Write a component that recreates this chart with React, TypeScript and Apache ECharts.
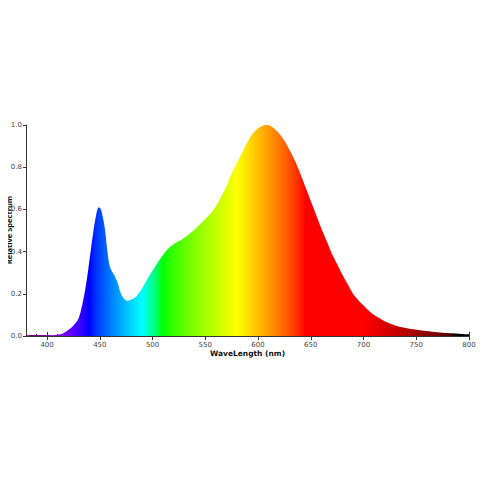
import { useEffect, useRef } from 'react';
import * as echarts from 'echarts';

// wavelength (nm) and relative intensity
const wavelengths = [
  380, 390, 400, 405, 410, 415, 420, 425, 430, 435, 438, 441, 444, 447, 449, 451, 453, 455, 457, 459,
  461, 464, 467, 470, 474, 477, 481, 485, 490, 495, 500, 505, 510, 515, 520, 525, 530, 535, 540, 545,
  550, 555, 560, 565, 570, 575, 580, 585, 590, 595, 600, 605, 608, 612, 616, 620, 625, 630, 635, 640,
  645, 650, 655, 660, 665, 670, 675, 680, 685, 690, 695, 700, 705, 710, 715, 720, 730, 740, 750, 760,
  770, 780, 790, 800,
];
const intensity = [
  0.004, 0.005, 0.005, 0.004, 0.006, 0.012, 0.028, 0.05, 0.085, 0.19, 0.28, 0.39, 0.5, 0.585, 0.61, 0.6, 0.56, 0.5, 0.41, 0.34,
  0.31, 0.285, 0.25, 0.2, 0.172, 0.167, 0.175, 0.19, 0.225, 0.27, 0.31, 0.35, 0.385, 0.415, 0.435, 0.45, 0.465, 0.485, 0.505, 0.53,
  0.555, 0.58, 0.615, 0.66, 0.71, 0.77, 0.82, 0.87, 0.92, 0.96, 0.985, 0.998, 1.0, 0.995, 0.98, 0.96, 0.925, 0.88, 0.83, 0.77,
  0.705, 0.64, 0.575, 0.51, 0.45, 0.39, 0.34, 0.29, 0.245, 0.2, 0.17, 0.145, 0.12, 0.1, 0.085, 0.07, 0.05, 0.038, 0.03, 0.024,
  0.018, 0.014, 0.011, 0.008,
];
const xMin = 380;
const xMax = 800;
const yTicks = [0, 0.2, 0.4, 0.6, 0.8, 1.0];
const xTitle = 'WaveLength (nm)';
const yTitle = 'Relative Spectrum';

// visible spectrum colour for a wavelength (used for the fill gradient)
function waveColor(w: number) {
  let r = 0, g = 0, b = 0;
  if (w < 440) { r = -(w - 440) / 60; b = 1; }
  else if (w < 490) { g = (w - 440) / 50; b = 1; }
  else if (w < 510) { g = 1; b = -(w - 510) / 20; }
  else if (w < 580) { r = (w - 510) / 70; g = 1; }
  else if (w < 645) { r = 1; g = -(w - 645) / 65; }
  else { r = 1; }
  let f = 1;
  if (w < 420) f = 0.3 + 0.7 * (w - 380) / 40;
  else if (w > 700 && w <= 780) f = 0.3 + 0.7 * (780 - w) / 80;
  else if (w > 780) f = Math.max(0, 0.3 - 0.3 * (w - 780) / 8);
  const c = (v: number) => Math.round(255 * Math.pow(v * f, 0.8));
  return `rgb(${c(r)},${c(g)},${c(b)})`;
}

export default function App() {
  const chartRef = useRef<HTMLDivElement>(null);

  useEffect(() => {
    if (!chartRef.current) return;
    const chart = echarts.init(chartRef.current, null, { renderer: 'svg' });

    const stops = [];
    for (let w = xMin; w <= xMax; w += 5) {
      stops.push({ offset: (w - xMin) / (xMax - xMin), color: waveColor(w) });
    }

    const plotLeft = 26;
    const plotRight = 16;
    const plotTop = 125;
    const plotBottom = 149;
    const plotW = 485 - plotLeft - plotRight;
    const pxPerNm = plotW / (xMax - xMin);
    const majorMin = 350;
    const grid1Left = plotLeft - (xMin - majorMin) * pxPerNm;

    const axisColor = '#333';
    const labelColor = '#444';
    const font = 'DejaVu Sans';

    chart.setOption({
      animation: false,
      grid: [
        { left: plotLeft, right: plotRight, top: plotTop, bottom: plotBottom, containLabel: false, outerBoundsMode: 'none' },
        { left: grid1Left, right: plotRight, top: plotTop, bottom: plotBottom, containLabel: false, outerBoundsMode: 'none' },
      ],
      graphic: [
        {
          type: 'text',
          x: 8.5,
          y: 230,
          rotation: Math.PI / 2,
          style: {
            text: yTitle,
            fontFamily: 'Noto Sans',
            fontWeight: 'bold',
            fontSize: 7.5,
            fill: '#111',
            align: 'center',
            verticalAlign: 'middle',
          },
        },
      ],
      xAxis: [
        {
          type: 'value',
          gridIndex: 0,
          position: 'bottom',
          min: xMin,
          max: xMax,
          interval: 10,
          axisLine: { show: true, lineStyle: { color: axisColor, width: 1 } },
          axisTick: { show: true, inside: true, length: 2, lineStyle: { color: axisColor } },
          axisLabel: { show: false },
          splitLine: { show: false },
          name: xTitle,
          nameLocation: 'middle',
          nameGap: 13,
          nameMoveOverlap: false,
          nameTextStyle: { fontFamily: font, fontWeight: 'bold', fontSize: 7.5, color: '#111' },
        },
        {
          type: 'value',
          gridIndex: 1,
          position: 'bottom',
          min: majorMin,
          max: xMax,
          interval: 50,
          axisLine: { show: false },
          axisTick: { show: true, length: 4, lineStyle: { color: axisColor } },
          axisLabel: {
            show: true,
            margin: 5,
            fontFamily: font,
            fontSize: 7,
            color: labelColor,
            formatter: (v: number) => (v < xMin ? '' : String(v)),
          },
          splitLine: { show: false },
        },
        {
          type: 'value',
          gridIndex: 1,
          position: 'bottom',
          offset: 0,
          min: majorMin,
          max: xMax,
          interval: 50,
          axisLine: { show: false },
          axisTick: { show: true, inside: true, length: 4, lineStyle: { color: axisColor } },
          axisLabel: { show: false },
          splitLine: { show: false },
        },
      ],
      yAxis: [
        {
          type: 'value',
          gridIndex: 0,
          min: yTicks[0],
          max: yTicks[yTicks.length - 1],
          interval: 0.2,
          axisLine: { show: true, lineStyle: { color: axisColor, width: 1 } },
          axisTick: { show: true, length: 3, lineStyle: { color: axisColor } },
          axisLabel: {
            margin: 4,
            fontFamily: font,
            fontSize: 7,
            color: labelColor,
            formatter: (v: number) => v.toFixed(1),
          },
          splitLine: { show: false },
        },
        {
          type: 'value',
          gridIndex: 1,
          min: 0,
          max: 1,
          show: false,
        },
      ],
      series: [
        {
          type: 'line',
          xAxisIndex: 0,
          yAxisIndex: 0,
          data: wavelengths.map((w, i) => [w, intensity[i]]),
          showSymbol: false,
          smooth: 0.3,
          lineStyle: { width: 0, opacity: 0 },
          areaStyle: {
            opacity: 1,
            color: new echarts.graphic.LinearGradient(0, 0, 1, 0, stops),
          },
          z: 1,
        },
      ],
    });

    return () => chart.dispose();
  }, []);

  return <div ref={chartRef} style={{ width: 485, height: 485, margin: -8 }} />;
}
